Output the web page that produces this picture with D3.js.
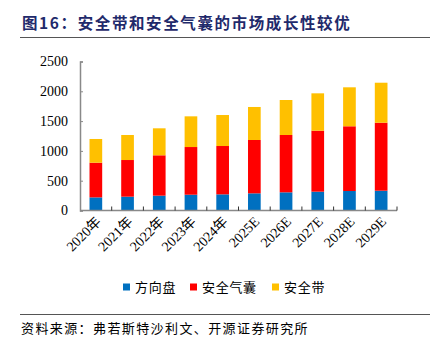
<!DOCTYPE html>
<html><head><meta charset="utf-8">
<script src="https://cdn.jsdelivr.net/npm/d3@7"></script>
<style>body{margin:0;background:#fff}svg{display:block}</style>
</head><body>
<svg id="c" width="440" height="352"></svg>
<script>
const categories = ["2020年","2021年","2022年","2023年","2024年","2025E","2026E","2027E","2028E","2029E"];
const seriesNames = ["方向盘","安全气囊","安全带"];
const steering = [220,232,249,265,271,288,305,316,327,332];
const airbag   = [582,615,677,800,811,895,962,1023,1086,1141];
const seatbelt = [398,420,453,515,520,554,587,627,654,671];
const yTicks = [0,500,1000,1500,2000,2500];
const colors = ["#0070C0","#FF0000","#FFC000"];

const svg = d3.select("#c");
const rows = categories.map((c,i)=>({cat:c, "方向盘":steering[i], "安全气囊":airbag[i], "安全带":seatbelt[i]}));
const stack = d3.stack().keys(seriesNames)(rows);

const x = d3.scaleBand().domain(categories).range([80,397]).paddingInner(0.6).paddingOuter(0.3);
const y = d3.scaleLinear().domain([0,2500]).range([210.5,61.5]);

// title
svg.append("text").attr("x",22).attr("y",29).attr("fill","#1F2A6B")
  .attr("font-family","'Noto Sans CJK SC'").attr("font-weight","bold").attr("font-size",15.5)
  .attr("letter-spacing",1.6).text("图16：安全带和安全气囊的市场成长性较优");
svg.append("line").attr("x1",20).attr("x2",430).attr("y1",37.5).attr("y2",37.5).attr("stroke","#555").attr("stroke-width",1);

// bars
svg.append("g").selectAll("g").data(stack).join("g").attr("fill",(d,i)=>colors[i])
  .selectAll("rect").data(d=>d).join("rect")
  .attr("x",d=>x(d.data.cat)).attr("width",x.bandwidth())
  .attr("y",d=>y(d[1])).attr("height",d=>y(d[0])-y(d[1]));

// y axis
const ya = svg.append("g").attr("transform","translate(80,0)")
  .call(d3.axisLeft(y).tickValues(yTicks).tickSize(-3).tickPadding(12).tickFormat(d3.format("d")));
ya.select(".domain").attr("stroke","#898989").attr("stroke-width",1.5);
ya.selectAll(".tick line").attr("stroke","#898989");
ya.selectAll("text").attr("font-family","'Liberation Serif'").attr("font-size",14).attr("fill","#000");

// x axis
const xa = svg.append("g").attr("transform","translate(0,210.5)");
xa.append("line").attr("x1",80).attr("x2",397).attr("stroke","#898989").attr("stroke-width",1.5);
const step = x.step();
const bounds = d3.range(categories.length+1).map(i=>80+ (x(categories[0]) - 80 - x.paddingInner()*step/2) + i*step);
xa.selectAll(".tk").data(d3.range(1,categories.length+1)).join("line")
  .attr("x1",i=>x(categories[i-1])+x.bandwidth()/2+step/2).attr("x2",i=>x(categories[i-1])+x.bandwidth()/2+step/2)
  .attr("y1",0).attr("y2",-4).attr("stroke","#333");
xa.selectAll(".lbl").data(categories).join("text")
  .attr("transform",d=>`translate(${x(d)+x.bandwidth()/2+6},${12}) rotate(-45)`)
  .attr("text-anchor","end").attr("font-family","'Liberation Serif','Noto Sans CJK SC'").attr("font-size",14)
  .text(d=>d);

// legend
const legX = [123,190,272];
const lg = svg.append("g");
seriesNames.forEach((n,i)=>{
  lg.append("rect").attr("x",legX[i]).attr("y",283.5).attr("width",7).attr("height",7).attr("fill",colors[i]);
  lg.append("text").attr("x",legX[i]+12).attr("y",292).attr("font-family","'Noto Sans CJK SC'")
    .attr("font-size",13).attr("letter-spacing",0.7).text(n);
});

// source
svg.append("line").attr("x1",20).attr("x2",430).attr("y1",314.5).attr("y2",314.5).attr("stroke","#555").attr("stroke-width",1);
svg.append("text").attr("x",21).attr("y",333).attr("font-family","'Noto Sans CJK SC'").attr("font-size",13)
  .attr("letter-spacing",1.4).text("资料来源：弗若斯特沙利文、开源证券研究所");
</script>
</body></html>
